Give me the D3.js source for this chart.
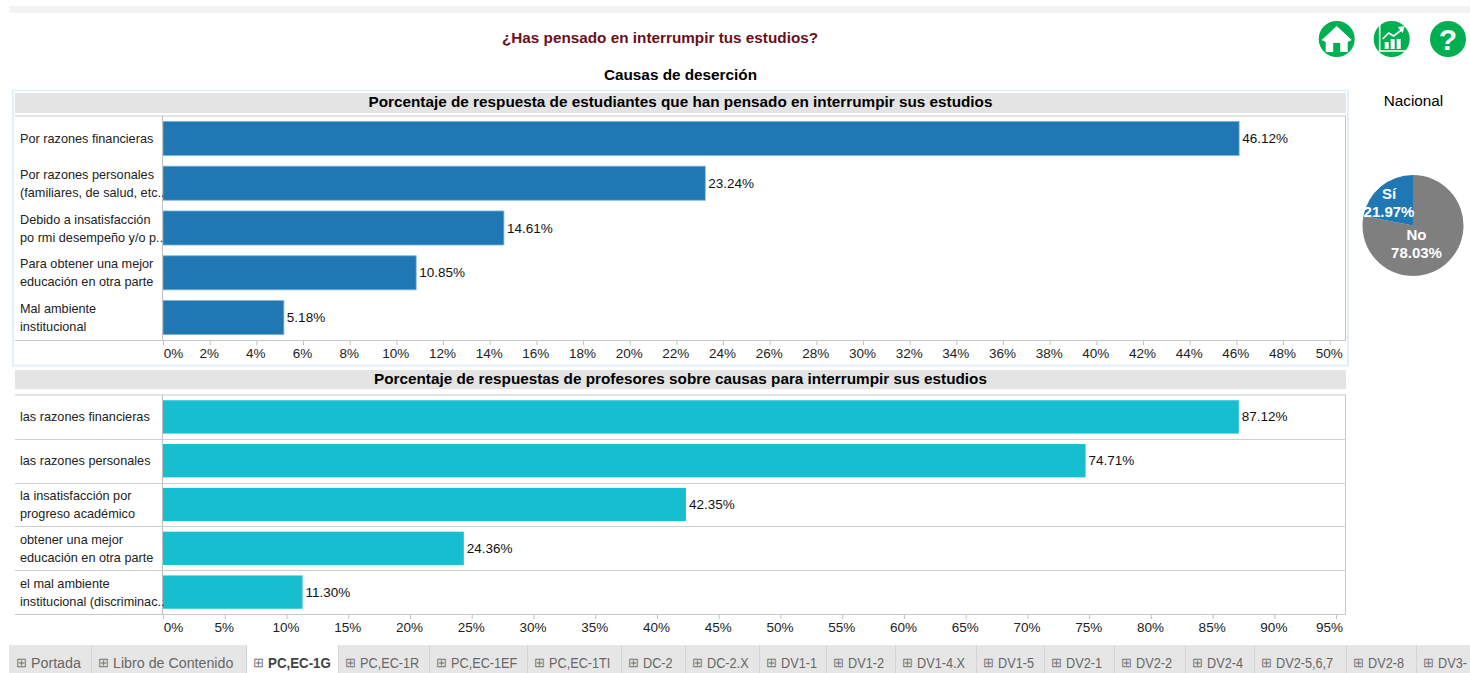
<!DOCTYPE html>
<html>
<head>
<meta charset="utf-8">
<script src="https://cdn.jsdelivr.net/npm/d3@7"></script>
<style>
html, body { margin: 0; padding: 0; background: #fff; overflow: hidden; }
text { font-family: "Liberation Sans", Arial, sans-serif; }
</style>
</head>
<body>
<script>
var studentLabels = [
    ["Por razones financieras"],
    ["Por razones personales", "(familiares, de salud, etc.."],
    ["Debido a insatisfacción", "po rmi desempeño y/o p.."],
    ["Para obtener una mejor", "educación en otra parte"],
    ["Mal ambiente", "institucional"]
];
var studentValues = [46.12, 23.24, 14.61, 10.85, 5.18];
var studentTicks = [0, 2, 4, 6, 8, 10, 12, 14, 16, 18, 20, 22, 24, 26, 28, 30, 32, 34, 36, 38, 40, 42, 44, 46, 48, 50];

var teacherLabels = [
    ["las razones financieras"],
    ["las razones personales"],
    ["la insatisfacción por", "progreso académico"],
    ["obtener una mejor", "educación en otra parte"],
    ["el mal ambiente", "institucional (discriminac.."]
];
var teacherValues = [87.12, 74.71, 42.35, 24.36, 11.30];
var teacherTicks = [0, 5, 10, 15, 20, 25, 30, 35, 40, 45, 50, 55, 60, 65, 70, 75, 80, 85, 90, 95];

var pieLabels = ["No", "Sí"];
var pieValues = [78.03, 21.97];

var tabNames = ["Portada", "Libro de Contenido", "PC,EC-1G", "PC,EC-1R", "PC,EC-1EF", "PC,EC-1TI", "DC-2", "DC-2.X", "DV1-1", "DV1-2", "DV1-4.X", "DV1-5", "DV2-1", "DV2-2", "DV2-4", "DV2-5,6,7", "DV2-8", "DV3-"];
var tabEdges = [10, 92, 247, 339, 430, 528, 622, 686, 760, 827, 896, 977, 1045, 1115, 1186, 1255, 1347, 1417, 1480];
var activeTab = "PC,EC-1G";

var width = 1470;
var height = 673;
var svg = d3.select("body").append("svg")
    .attr("width", width)
    .attr("height", height)
    .style("display", "block");

var green = "#00b050";

// page furniture
svg.append("rect").attr("x", 9).attr("y", 6).attr("width", 1461).attr("height", 7).attr("fill", "#f3f3f3");
svg.append("text").attr("x", 660).attr("y", 43).attr("text-anchor", "middle")
    .style("font-size", "15.3px").style("font-weight", "bold").attr("fill", "#6b0f1a")
    .text("¿Has pensado en interrumpir tus estudios?");
svg.append("text").attr("x", 680.5).attr("y", 80).attr("text-anchor", "middle")
    .style("font-size", "15.3px").style("font-weight", "bold").attr("fill", "#000")
    .text("Causas de deserción");
svg.append("text").attr("x", 1413.5).attr("y", 106).attr("text-anchor", "middle")
    .style("font-size", "15.3px").attr("fill", "#000").text("Nacional");

// selected sheet outline
svg.append("rect").attr("x", 13).attr("y", 90.5).attr("width", 1335).attr("height", 275)
    .attr("fill", "none").attr("stroke", "#e3f0f8").attr("stroke-width", 2);

function drawPanel(cfg) {
    var x = d3.scaleLinear().domain([0, cfg.max]).range([163, 1346]);
    var y = d3.scaleBand().domain(d3.range(cfg.values.length))
        .range([cfg.top, cfg.bottom]).paddingInner(0.24).paddingOuter(0.12);

    svg.append("rect").attr("x", 15).attr("y", cfg.headY).attr("width", 1331).attr("height", cfg.headH).attr("fill", "#e4e4e4");
    svg.append("text").attr("x", 680.5).attr("y", cfg.headY + 13.5).attr("text-anchor", "middle")
        .style("font-size", "15.3px").style("font-weight", "bold").text(cfg.title);

    // frame lines
    svg.append("line").attr("x1", 15).attr("x2", 1346).attr("y1", cfg.top).attr("y2", cfg.top).attr("stroke", "#c8c8c8");
    svg.append("line").attr("x1", 1345.5).attr("x2", 1345.5).attr("y1", cfg.top).attr("y2", cfg.bottom).attr("stroke", "#c8c8c8");
    if (cfg.rowLines) {
        svg.selectAll(null).data(d3.range(1, cfg.values.length)).enter().append("line")
            .attr("x1", 15).attr("x2", 1346)
            .attr("y1", function(d) { return Math.round(y(d) - (y.step() - y.bandwidth()) / 2) + 0.5; })
            .attr("y2", function(d) { return Math.round(y(d) - (y.step() - y.bandwidth()) / 2) + 0.5; })
            .attr("stroke", "#cfcfcf");
    }

    svg.selectAll(null).data(cfg.values).enter().append("rect")
        .attr("x", x(0))
        .attr("y", function(d, i) { return y(i); })
        .attr("width", function(d) { return x(d) - x(0); })
        .attr("height", y.bandwidth())
        .attr("fill", cfg.color)
        .attr("stroke", cfg.barStroke)
        .attr("stroke-width", cfg.barStroke === "none" ? 0 : 0.8);
    svg.append("line").attr("x1", 162.5).attr("x2", 162.5).attr("y1", cfg.top).attr("y2", cfg.bottom).attr("stroke", "#c0c0c0");

    svg.selectAll(null).data(cfg.values).enter().append("text")
        .attr("x", function(d) { return x(d) + 3; })
        .attr("y", function(d, i) { return y(i) + y.bandwidth() / 2 + 4.5; })
        .style("font-size", "13.5px").attr("fill", "#111")
        .text(function(d) { return d.toFixed(2) + "%"; });

    // category labels
    var labels = svg.selectAll(null).data(cfg.labels).enter().append("text")
        .attr("y", function(d, i) { return y(i) + y.bandwidth() / 2 + 4.5 - (d.length - 1) * 9; })
        .style("font-size", "12.7px").attr("fill", "#222");
    labels.selectAll("tspan").data(function(d) { return d; }).enter().append("tspan")
        .attr("x", 20)
        .attr("dy", function(d, i) { return i ? 18 : 0; })
        .text(function(d) { return d; });

    var axis = d3.axisBottom(x).tickValues(cfg.ticks).tickSize(5).tickPadding(3.5)
        .tickFormat(function(d) { return d + "%"; });
    var g = svg.append("g").attr("transform", "translate(0," + cfg.bottom + ")").call(axis);
    g.select(".domain").remove();
    g.selectAll(".tick line").attr("stroke", "#c0c0c0");
    g.selectAll(".tick text").style("font-size", "13.5px").attr("fill", "#222")
        .style("font-family", "'Liberation Sans', Arial, sans-serif")
        .attr("dx", function(d) { return d === 0 ? 10 : (d === cfg.ticks[cfg.ticks.length - 1] && cfg.max > 90 ? -7 : -1); });
    svg.append("line").attr("x1", 15).attr("x2", 1346).attr("y1", cfg.bottom + 0.5).attr("y2", cfg.bottom + 0.5).attr("stroke", "#c8c8c8");
}

drawPanel({
    title: "Porcentaje de respuesta de estudiantes que han pensado en interrumpir sus estudios",
    labels: studentLabels, values: studentValues, ticks: studentTicks,
    max: 50.7, color: "#1f77b4", barStroke: "#7fb3d8", headY: 93, headH: 20, top: 116, bottom: 340, rowLines: false
});
drawPanel({
    title: "Porcentaje de respuestas de profesores sobre causas para interrumpir sus estudios",
    labels: teacherLabels, values: teacherValues, ticks: teacherTicks,
    max: 95.8, color: "#17becf", barStroke: "none", headY: 370, headH: 19, top: 395, bottom: 614, rowLines: true
});

// pie
var pieG = svg.append("g").attr("transform", "translate(1413,225.5)");
var arc = d3.arc().innerRadius(0).outerRadius(50.5);
var slices = d3.pie().sort(null)(pieValues);
pieG.selectAll("path").data(slices).enter().append("path")
    .attr("d", arc)
    .attr("fill", function(d, i) { return i === 0 ? "#7f7f7f" : "#1f77b4"; });
pieG.selectAll("text").data(slices).enter().append("text")
    .attr("text-anchor", "middle").attr("fill", "#fff")
    .style("font-size", "15px").style("font-weight", "bold")
    .attr("transform", function(d, i) { return "translate(" + (i === 0 ? 3.5 : -24) + "," + (i === 0 ? 14 : -27) + ")"; })
    .selectAll("tspan")
    .data(function(d, i) { return [pieLabels[i], d.value.toFixed(2) + "%"]; })
    .enter().append("tspan")
    .attr("x", 0)
    .attr("dy", function(d, i) { return i ? 18 : 0; })
    .text(function(d) { return d; });

// nav icons
function icon(cx) {
    var g = svg.append("g").attr("transform", "translate(" + cx + ",39)");
    g.append("circle").attr("r", 18).attr("fill", green);
    return g;
}
icon(1336.7).append("path").attr("fill", "#fff")
    .attr("d", "M0,-13 L15,1 L11,3 L11,13 L3.5,13 L3.5,4 L-3.5,4 L-3.5,13 L-11,13 L-11,3 L-15,1 Z");
var chart = icon(1391.7);
chart.append("path").attr("fill", "none").attr("stroke", "#fff").attr("stroke-width", 1.6)
    .attr("d", "M-12,-16 L-12,12 L16,12");
chart.selectAll(null).data([[-5, 3, 7], [1, 0, 10], [7, 0, 10]]).enter().append("rect")
    .attr("x", function(d) { return d[0] - 2; }).attr("y", function(d) { return d[1]; })
    .attr("width", 4).attr("height", function(d) { return d[2]; }).attr("fill", "#fff");
chart.append("path").attr("fill", "none").attr("stroke", "#fff").attr("stroke-width", 1.6)
    .attr("d", "M-9,0 L-3,-6 L2,-3 L11,-10");
chart.append("path").attr("fill", "#fff").attr("d", "M6,-12 L13,-13 L11,-6 Z");
icon(1448).append("text").attr("text-anchor", "middle").attr("y", 11)
    .style("font-size", "30px").style("font-weight", "bold").attr("fill", "#fff").text("?");

// sheet tabs
svg.append("rect").attr("x", 9).attr("y", 645).attr("width", 1461).attr("height", 28).attr("fill", "#e6e6e6");
var tabs = svg.selectAll(".tab").data(tabNames).enter().append("g").attr("class", "tab");
tabs.append("rect")
    .attr("x", function(d, i) { return tabEdges[i]; })
    .attr("y", 645)
    .attr("width", function(d, i) { return tabEdges[i + 1] - tabEdges[i] - 1; })
    .attr("height", 28)
    .attr("fill", function(d) { return d === activeTab ? "#fff" : "#e6e6e6"; });
tabs.append("line")
    .attr("x1", function(d, i) { return tabEdges[i + 1] - 0.5; })
    .attr("x2", function(d, i) { return tabEdges[i + 1] - 0.5; })
    .attr("y1", 645).attr("y2", 673).attr("stroke", "#d4d4d4");
tabs.append("text")
    .attr("x", function(d, i) { return tabEdges[i] + 6; })
    .attr("y", 667)
    .style("font-size", "13px").attr("fill", "#777")
    .text("⊞");
// the short sheet codes run narrower than the two worded tabs
tabs.append("text")
    .attr("transform", function(d, i) {
        var sx = d === activeTab ? 0.86 : (/\d/.test(d) ? 0.82 : 0.92);
        return "translate(" + (tabEdges[i] + 21) + ",668) scale(" + sx + ",1)";
    })
    .style("font-size", "15.5px")
    .style("font-weight", function(d) { return d === activeTab ? "bold" : "normal"; })
    .attr("fill", function(d) { return d === activeTab ? "#444" : "#666"; })
    .text(function(d) { return d; });
</script>
</body>
</html>
